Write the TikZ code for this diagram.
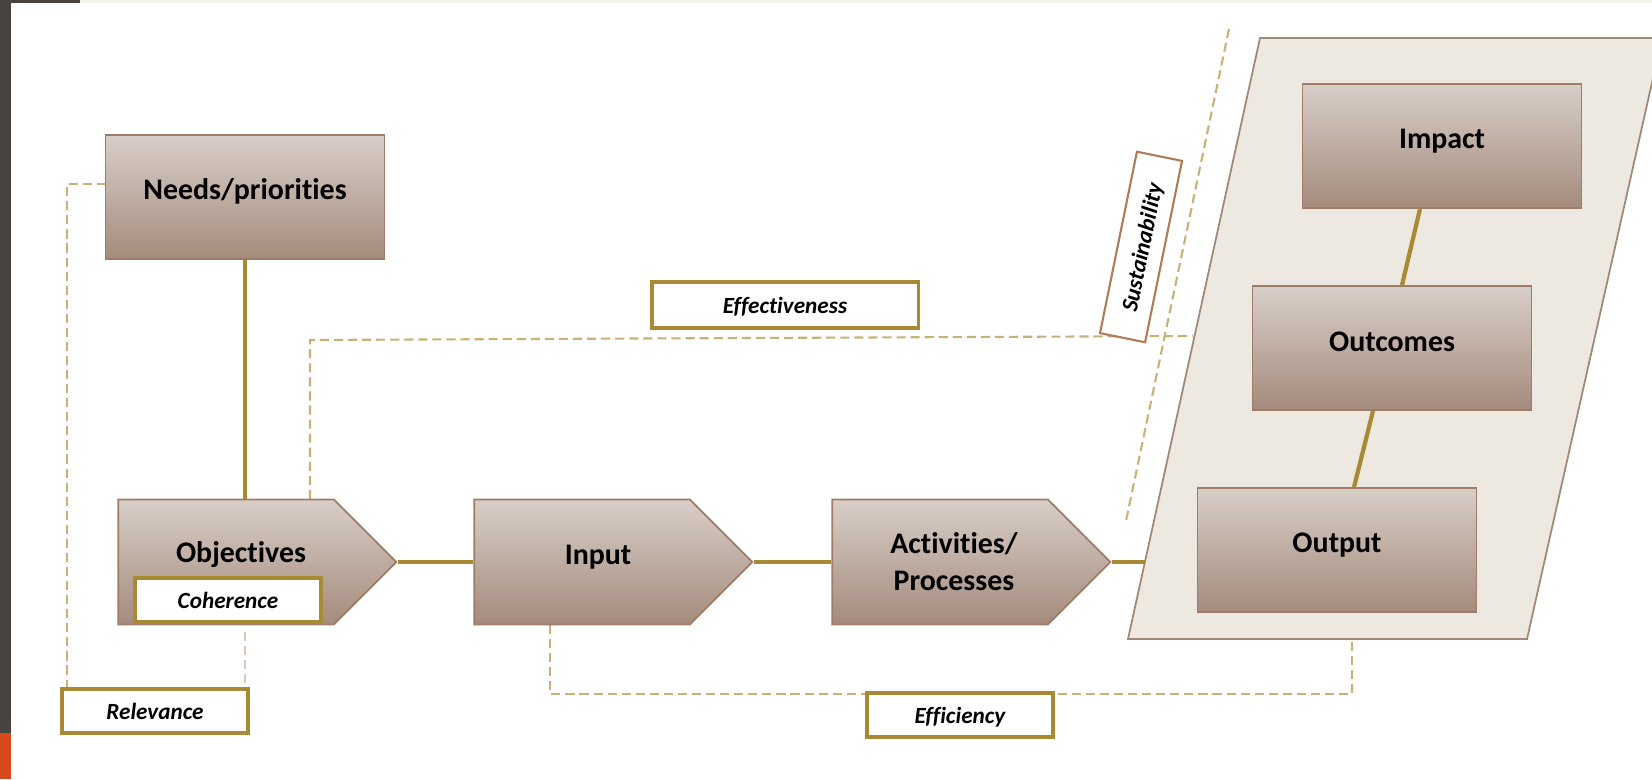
\documentclass[tikz,border=0pt]{standalone}
\usepackage{fontspec}
\setmainfont{Carlito}[Ligatures=NoCommon]
\usetikzlibrary{shapes.symbols}

\definecolor{boxtop}{RGB}{216,206,200}
\definecolor{boxbot}{RGB}{164,139,124}
\definecolor{boxline}{RGB}{158,124,104}
\definecolor{gold}{RGB}{168,138,52}
\definecolor{dashgold}{RGB}{201,176,118}
\definecolor{dashpale}{RGB}{218,200,184}
\definecolor{panelfill}{RGB}{237,232,224}
\definecolor{panelline}{RGB}{160,136,118}
\definecolor{sustline}{RGB}{176,124,86}
\definecolor{pagebar}{RGB}{71,68,64}
\definecolor{pageaccent}{RGB}{216,74,27}
\definecolor{topstrip}{RGB}{243,241,236}

\tikzset{
  stage/.style={signal, signal to=east, signal pointer angle=90,
    draw=boxline, line width=0.5pt, top color=boxtop, bottom color=boxbot,
    minimum width=2.78cm, minimum height=1.25cm, inner sep=0pt},
  result/.style={rectangle, draw=boxline, line width=0.5pt,
    top color=boxtop, bottom color=boxbot,
    minimum width=2.79cm, minimum height=1.24cm, inner sep=0pt},
  boxtext/.style={font=\fontsize{8.5}{10.5}\selectfont\bfseries, align=center, inner sep=0pt},
  crit/.style={rectangle, draw=gold, line width=0.9pt, fill=white,
    font=\fontsize{6.6}{8}\selectfont\bfseries\itshape,
    text height=6.5pt, text depth=1.5pt,
    minimum width=1.86cm, minimum height=0.44cm, inner sep=0pt},
  link/.style={draw=gold, line width=1.2pt},
  guide/.style={draw=dashgold, line width=0.6pt, dash pattern=on 2.6pt off 1.4pt}
}

\begin{document}
\begin{tikzpicture}[x=0.01cm, y=-0.01cm]

  \useasboundingbox (0,0) rectangle (1652,779);
  \clip (0,0) rectangle (1652,779);

  % Page edge
  \fill[topstrip] (80,0) rectangle (1652,3);
  \fill[pagebar] (0,0) rectangle (80,3);
  \fill[pagebar] (0,0) rectangle (11,733);
  \fill[pageaccent] (0,733) rectangle (11,779);

  % Results panel
  \draw[panelline, fill=panelfill, line width=0.5pt]
    (1260,38) -- (1662,38) -- (1527,639) -- (1128,639) -- cycle;

  % Guide lines
  \coordinate (rel-top) at (106,184);
  \coordinate (rel-corner) at (67,184);
  \coordinate (rel-end) at (67,689);
  \coordinate (coh-top) at (245,632);
  \coordinate (coh-end) at (245,689);
  \coordinate (eff-start) at (310,499);
  \coordinate (eff-corner) at (310,340);
  \coordinate (eff-end) at (1193,336);
  \coordinate (effc-start) at (550,625);
  \coordinate (effc-left) at (550,694);
  \coordinate (effc-right) at (1352,694);
  \coordinate (effc-end) at (1352,639);
  \coordinate (sust-top) at (1229,29);
  \coordinate (sust-bot) at (1126,521);
  \coordinate (panel-in) at (1145,562);

  \draw[guide] (rel-top) -- (rel-corner) -- (rel-end);
  \draw[guide, draw=dashpale] (coh-top) -- (coh-end);
  \draw[guide] (eff-start) -- (eff-corner) -- (eff-end);
  \draw[guide] (effc-start) -- (effc-left) -- (effc-right) -- (effc-end);
  \draw[guide] (sust-top) -- (sust-bot);

  % Boxes
  \node[result] (needs) at (245,197) {};
  \node[stage] (obj) at (226,562) {};
  \node[stage] (input) at (582,562) {};
  \node[stage] (act) at (940,562) {};
  \node[result] (impact) at (1442,146) {};
  \node[result] (outcomes) at (1392,348) {};
  \node[result] (output) at (1337,550) {};

  % Links
  \draw[link] (needs) -- (needs |- obj.north);
  \draw[link] (obj) -- (input);
  \draw[link] (input) -- (act);
  \draw[link] (act) -- (panel-in);
  \draw[link] ([xshift=-0.22cm]impact.south) -- ([xshift=0.10cm]outcomes.north);
  \draw[link] ([xshift=-0.19cm]outcomes.south) -- ([xshift=0.17cm]output.north);

  % Labels
  \node[boxtext] (needs-txt) at (245,191) {Needs/priorities};
  \node[boxtext] (obj-txt) at (241,555) {Objectives};
  \node[boxtext] (input-txt) at (598,557) {Input};
  \node[boxtext] (act-txt) at (954,562) {Activities/\\Processes};
  \node[boxtext] (impact-txt) at (1442,141) {Impact};
  \node[boxtext] (outcomes-txt) at (1392,342) {Outcomes};
  \node[boxtext] (output-txt) at (1337,545) {Output};

  % Criteria
  \node[crit] (coherence) at (228,600) {Coherence};
  \node[crit] (relevance) at (155,711) {Relevance};
  \node[crit, minimum width=2.66cm, minimum height=0.46cm] (effectiveness) at (785,305) {Effectiveness};
  \node[crit] (efficiency) at (960,715) {Efficiency};
  \node[crit, draw=sustline, line width=0.6pt, minimum width=1.85cm, minimum height=0.46cm,
    rotate=78.5] (sustainability) at (1141,247) {Sustainability};

\end{tikzpicture}
\end{document}
